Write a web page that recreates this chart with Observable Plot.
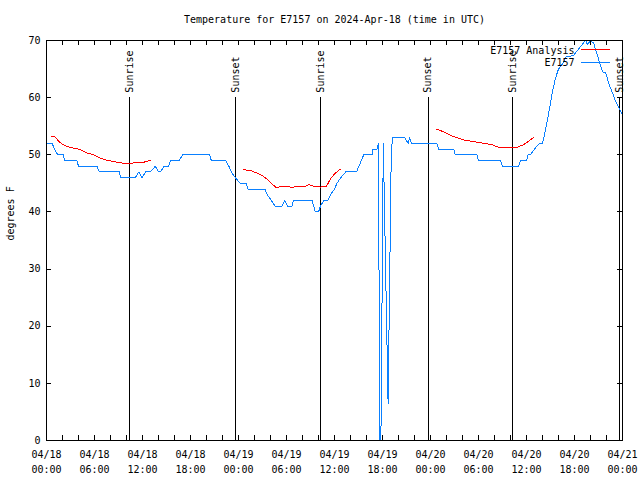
<!DOCTYPE html>
<html><head><meta charset="utf-8">
<script src="https://cdn.jsdelivr.net/npm/d3@7"></script>
<script src="https://cdn.jsdelivr.net/npm/@observablehq/plot@0.6"></script>
<style>body{margin:0;background:#fff} svg{display:block}</style>
</head><body><div id="chart"></div>
<script>
const title = "Temperature for E7157 on 2024-Apr-18 (time in UTC)";
const yLabel = "degrees F";
const seriesNames = ["E7157 Analysis", "E7157"];
const startDate = Date.UTC(2024, 3, 18, 0);
const endHour = 72;

// Observations (hours since 04/18 00:00 UTC, degrees F)
const obsHours = [0,0.7,1.0,1.4,2.1,2.25,3.8,4.0,6.3,6.6,9.1,9.25,11.1,11.55,11.95,12.4,13.0,13.6,14.0,14.25,14.7,15.25,15.5,16.6,17.0,20.4,20.6,22.4,22.8,23.1,23.6,24.2,25.0,25.15,27.3,27.6,28.1,28.6,29.45,29.75,30.15,30.7,30.85,33.2,33.4,33.6,34.0,34.25,34.65,35.15,35.5,36.0,36.3,36.8,37.4,38.75,39.66,40.7,40.8,41.3,41.5,41.65,41.8,42.1,42.7,43.1,43.3,44.8,45.2,45.4,45.6,48.8,49.0,50.9,51.1,53.8,54.0,56.75,57.0,59.0,59.25,60.0,60.2,60.5,61.0,61.6,62.0,62.4,62.8,63.2,63.6,64.0,64.5,64.9,65.9,66.5,67.2,67.4,67.6,68.0,68.4,68.8,69.25,69.5,69.9,70.3,70.7,71.1,71.5,71.95];
const obsTemps = [52,52,51,50,50,49,49,48,48,47,47,46,46,47,46,47,47,48,47,47,48,48,49,49,50,50,49,49,48,47,46,45,45,44,44,43,42,41,41,42,41,41,42,42,41,40,40,41,42,42,43,44,45,46,47,47,50,50,51,51,52,0,0,52,6.5,51,53,53,52,53,52,52,51,51,50,50,49,49,48,48,49,49,50,50,51,52,52,54.5,57.5,60.7,63.3,65,65.9,67.1,67.4,68.5,69.7,70,69.3,70,69.5,67.7,65.6,64.5,64.4,62.4,61,59.5,58.3,57.2];

// Analysis segments
const anaHours1 = [0.63,1.13,1.54,1.96,2.58,3.21,4.04,4.46,5.09,5.91,6.54,7.38,8.41,9.66,10.29,12.16,13.0];
const anaTemps1 = [53.2,53.1,52.3,51.9,51.45,51.2,51,50.7,50.3,50.0,49.5,49.1,48.8,48.5,48.5,48.7,49.05];
const anaHours2 = [24.6,25.5,26.3,26.96,27.6,28.2,28.75,29.25,30.1,30.5,32.2,32.8,33.4,34.25,35.0,35.5,36.1,36.75];
const anaTemps2 = [47.4,47.25,46.8,46.4,45.7,44.9,44.2,44.5,44.5,44.35,44.4,44.75,44.5,44.35,44.5,45.8,46.8,47.5];
const anaHours3 = [48.75,49.66,50.5,51.34,52.16,53.41,54.66,55.71,56.54,58.84,59.66,60.29,60.84];
const anaTemps3 = [54.5,54,53.4,53.0,52.6,52.3,52.0,51.75,51.3,51.3,51.8,52.4,53];

const sunriseHours = [10.35, 34.3, 58.3];
const sunsetHours = [23.65, 47.7, 71.65];
const yTicks = [0, 10, 20, 30, 40, 50, 60, 70];

const red = "#ff0000";
const blue = "#0a80ff";
const font = "DejaVu Sans Mono";

const toDate = h => new Date(startDate + h * 3600e3);
const obs = obsHours.map((h, i) => ({t: toDate(h), v: obsTemps[i]}));
const ana = [[anaHours1, anaTemps1], [anaHours2, anaTemps2], [anaHours3, anaTemps3]]
  .flatMap(([hs, vs], s) => hs.map((h, i) => ({t: toDate(h), v: vs[i], seg: s})));
const sun = [
  ...sunriseHours.map(h => ({t: toDate(h), label: "Sunrise"})),
  ...sunsetHours.map(h => ({t: toDate(h), label: "Sunset"}))
];
const majorTicks = d3.utcHour.every(6).range(toDate(0), toDate(endHour + 0.01));
const minorTicks = d3.utcHour.every(2).range(toDate(0), toDate(endHour + 0.01));
const fmt = d3.utcFormat("%m/%d\n%H:%M");

const chart = Plot.plot({
  width: 640, height: 480,
  marginLeft: 46, marginRight: 18, marginTop: 40, marginBottom: 40,
  style: {fontFamily: font, fontSize: "10px", color: "#000", background: "#fff"},
  x: {type: "utc", domain: [toDate(0), toDate(endHour)], axis: null},
  y: {domain: [0, 70], axis: null},
  marks: [
    Plot.tickX(minorTicks, {x: d => d, insetTop: 395, stroke: "#000", shapeRendering: "crispEdges"}),
    Plot.tickX(minorTicks, {x: d => d, insetBottom: 395, stroke: "#000", shapeRendering: "crispEdges"}),
    Plot.tickY(yTicks, {y: d => d, insetRight: 571, stroke: "#000", shapeRendering: "crispEdges"}),
    Plot.tickY(yTicks, {y: d => d, insetLeft: 571, stroke: "#000", shapeRendering: "crispEdges"}),
    Plot.text(yTicks, {y: d => d, text: d => String(d), frameAnchor: "left", textAnchor: "end", dx: -6}),
    Plot.text(majorTicks, {x: d => d, text: d => fmt(d), frameAnchor: "bottom", lineAnchor: "top", dy: 7, lineHeight: 1.5}),
    Plot.text([title], {frameAnchor: "top", lineAnchor: "middle", dy: -21}),
    Plot.text([yLabel], {frameAnchor: "left", lineAnchor: "middle", rotate: -90, dx: -36}),
    Plot.ruleX(sun, {x: "t", y1: 0, y2: 60, stroke: "#000", shapeRendering: "crispEdges"}),
    Plot.text(sun, {x: "t", y: 60, text: "label", rotate: -90, textAnchor: "start", lineAnchor: "middle", dy: -5}),
    Plot.line(ana, {x: "t", y: "v", z: "seg", stroke: red, strokeWidth: 1, shapeRendering: "crispEdges"}),
    Plot.line(obs, {x: "t", y: "v", stroke: blue, strokeWidth: 1, shapeRendering: "crispEdges"}),
    Plot.text([seriesNames[0]], {frameAnchor: "top-right", textAnchor: "end", lineAnchor: "middle", dx: -48, dy: 10.5}),
    Plot.text([seriesNames[1]], {frameAnchor: "top-right", textAnchor: "end", lineAnchor: "middle", dx: -48, dy: 22.5}),
    Plot.frame({stroke: "#000", shapeRendering: "crispEdges"})
  ]
});

// legend sample lines
const svg = d3.select(chart);
[[red, 49.5], [blue, 62.5]].forEach(([c, y]) => {
  svg.append("line").attr("x1", 581).attr("x2", 610).attr("y1", y).attr("y2", y)
    .attr("stroke", c).attr("shape-rendering", "crispEdges");
});
document.getElementById("chart").appendChild(chart);
</script>
</body></html>
